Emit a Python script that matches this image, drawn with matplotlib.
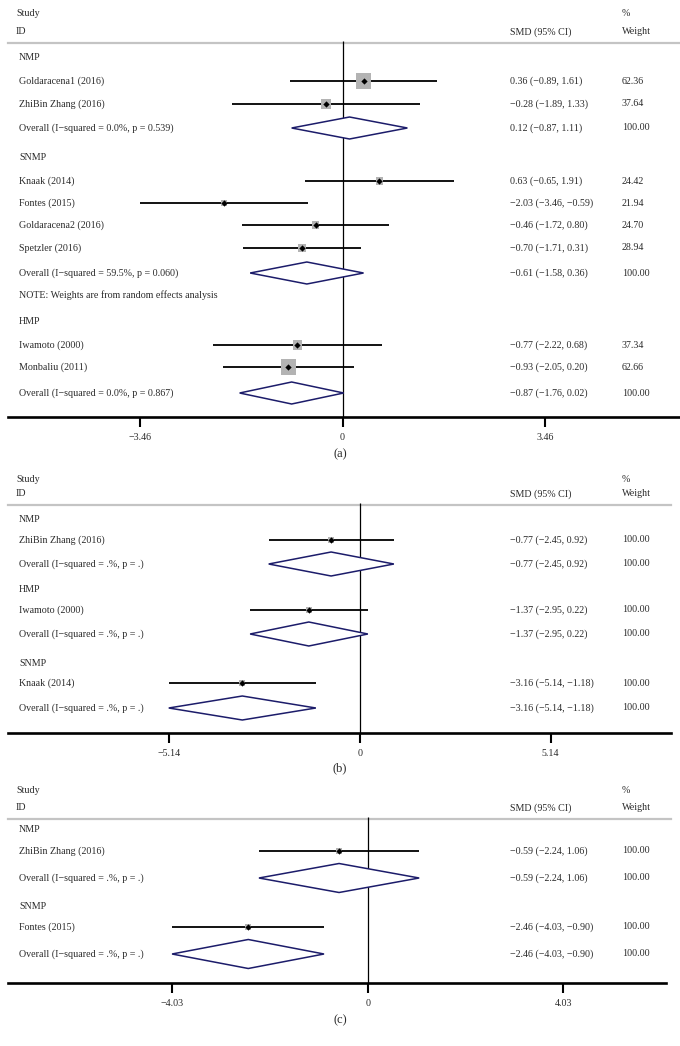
import matplotlib
matplotlib.use("Agg")
import matplotlib.pyplot as plt
from matplotlib.patches import Polygon, Rectangle
import matplotlib.transforms as mtransforms

plt.rcParams['font.family'] = ['Liberation Serif', 'DejaVu Serif']

# ---------------- data ----------------
# panel (a)
a_groups = ["NMP", "SNMP", "HMP"]
a_studies = [["Goldaracena1 (2016)", "ZhiBin Zhang (2016)"],
             ["Knaak (2014)", "Fontes (2015)", "Goldaracena2 (2016)", "Spetzler (2016)"],
             ["Iwamoto (2000)", "Monbaliu (2011)"]]
a_est = [[0.36, -0.28], [0.63, -2.03, -0.46, -0.70], [-0.77, -0.93]]
a_lo = [[-0.89, -1.89], [-0.65, -3.46, -1.72, -1.71], [-2.22, -2.05]]
a_hi = [[1.61, 1.33], [1.91, -0.59, 0.80, 0.31], [0.68, 0.20]]
a_w = [[62.36, 37.64], [24.42, 21.94, 24.70, 28.94], [37.34, 62.66]]
a_ov_label = ["Overall (I\u2212squared = 0.0%, p = 0.539)",
              "Overall (I\u2212squared = 59.5%, p = 0.060)",
              "Overall (I\u2212squared = 0.0%, p = 0.867)"]
a_ov_est = [0.12, -0.61, -0.87]
a_ov_lo = [-0.87, -1.58, -1.76]
a_ov_hi = [1.11, 0.36, 0.02]
a_tick = 3.46

# panel (b)
b_groups = ["NMP", "HMP", "SNMP"]
b_studies = [["ZhiBin Zhang (2016)"], ["Iwamoto (2000)"], ["Knaak (2014)"]]
b_est = [[-0.77], [-1.37], [-3.16]]
b_lo = [[-2.45], [-2.95], [-5.14]]
b_hi = [[0.92], [0.22], [-1.18]]
b_w = [[100.0], [100.0], [100.0]]
b_ov_label = ["Overall (I\u2212squared = .%, p = .)"] * 3
b_ov_est = [-0.77, -1.37, -3.16]
b_ov_lo = [-2.45, -2.95, -5.14]
b_ov_hi = [0.92, 0.22, -1.18]
b_tick = 5.14

# panel (c)
c_groups = ["NMP", "SNMP"]
c_studies = [["ZhiBin Zhang (2016)"], ["Fontes (2015)"]]
c_est = [[-0.59], [-2.46]]
c_lo = [[-2.24], [-4.03]]
c_hi = [[1.06], [-0.90]]
c_w = [[100.0], [100.0]]
c_ov_label = ["Overall (I\u2212squared = .%, p = .)"] * 2
c_ov_est = [-0.59, -2.46]
c_ov_lo = [-2.24, -4.03]
c_ov_hi = [1.06, -0.90]
c_tick = 4.03

note_text = "NOTE: Weights are from random effects analysis"

# ---------------- layout (pixels) ----------------
W, H = 680, 1046
fig = plt.figure(figsize=(W / 100, H / 100), dpi=100)

TXT = '#2a2a2a'
NAVY = '#1c1c6a'
FS = 7.2


def fmt(v):
    return f"{v:.2f}".replace('-', '\u2212')


def ci_text(e, l, h):
    return f"{fmt(e)} ({fmt(l)}, {fmt(h)})"


def panel(top, bottom, zero_px, scale, axis_right, hdr_right, study_y, id_y, hline_y,
          group_y, study_rows_y, ov_y, dh, groups, studies, est, lo, hi, w, ov_label,
          ov_est, ov_lo, ov_hi, tick, box_fn, caption, cap_y, note_y=None, note_after=None):
    ax = fig.add_axes([0, 1 - bottom / H, 1, (bottom - top) / H])
    ax.set_xlim((0 - zero_px) / scale, (W - zero_px) / scale)
    ax.set_ylim(bottom, top)
    for s in ['top', 'left', 'right']:
        ax.spines[s].set_visible(False)
    ax.spines['bottom'].set_linewidth(1.9)
    ax.spines['bottom'].set_bounds((8 - zero_px) / scale, (axis_right - zero_px) / scale)
    ax.set_yticks([])
    ax.set_xticks([-tick, 0, tick])
    ax.set_xticklabels([fmt(-tick), "0", fmt(tick)])
    ax.tick_params(axis='x', direction='out', length=7.5, width=1.5, pad=4,
                   labelsize=FS, labelcolor=TXT, color='black')
    ax.patch.set_alpha(0)
    bl = mtransforms.blended_transform_factory(ax.transAxes, ax.transData)

    def tx(xpx, y, s, **kw):
        ax.text(xpx / W, y, s, transform=bl, fontsize=FS, color=TXT, va='center',
                ha='left', **kw)

    # header
    tx(16, study_y, "Study")
    tx(16, id_y, "ID")
    tx(622, study_y, "%")
    tx(622, id_y, "Weight")
    tx(510, id_y, "SMD (95% CI)")
    ax.plot([8 / W, hdr_right / W], [hline_y, hline_y], transform=bl,
            color='#c4c4c4', lw=1.6, clip_on=False)
    # zero line
    ax.vlines(0, hline_y - 2, bottom, color='black', lw=0.9)

    for g in range(len(groups)):
        tx(19, group_y[g], groups[g])
        for i, name in enumerate(studies[g]):
            y = study_rows_y[g][i]
            tx(19, y, name)
            tx(510, y, ci_text(est[g][i], lo[g][i], hi[g][i]))
            tx(622, y, f"{w[g][i]:.2f}")
            ax.hlines(y, lo[g][i], hi[g][i], color='black', lw=1.3, zorder=2)
            side = box_fn(w[g][i])
            ax.add_patch(Rectangle((est[g][i] - side / 2 / scale, y - side / 2),
                                   side / scale, side, facecolor='#b3b3b3',
                                   edgecolor='none', zorder=3))
            ax.plot(est[g][i], y, marker='D', ms=3.2, color='black', mew=0, zorder=4)
        y = ov_y[g]
        tx(19, y, ov_label[g])
        tx(510, y, ci_text(ov_est[g], ov_lo[g], ov_hi[g]))
        tx(622, y, "100.00")
        ax.add_patch(Polygon([(ov_lo[g], y), (ov_est[g], y - dh), (ov_hi[g], y),
                              (ov_est[g], y + dh)], closed=True, facecolor='white',
                             edgecolor=NAVY, lw=1.1, zorder=3))
        if note_after is not None and g == note_after:
            tx(19, note_y, note_text)
    fig.text(340 / W, 1 - cap_y / H, caption, ha='center', va='center',
             fontsize=9, color=TXT)
    return ax


# panel (a)
panel(top=0, bottom=417, zero_px=342.5, scale=58.45, axis_right=680, hdr_right=680,
      study_y=13, id_y=32, hline_y=43,
      group_y=[58, 158, 322],
      study_rows_y=[[81, 104], [181, 203, 225, 248], [345, 367]],
      ov_y=[128, 273, 393], dh=11,
      groups=a_groups, studies=a_studies, est=a_est, lo=a_lo, hi=a_hi, w=a_w,
      ov_label=a_ov_label, ov_est=a_ov_est, ov_lo=a_ov_lo, ov_hi=a_ov_hi,
      tick=a_tick, box_fn=lambda v: 2 + 0.21 * v, caption="(a)", cap_y=454,
      note_y=295, note_after=1)

# panel (b)
panel(top=470, bottom=733, zero_px=359.7, scale=37.15, axis_right=671, hdr_right=671,
      study_y=479, id_y=494, hline_y=505,
      group_y=[520, 589, 663],
      study_rows_y=[[540], [610], [683]],
      ov_y=[564, 634, 708], dh=12,
      groups=b_groups, studies=b_studies, est=b_est, lo=b_lo, hi=b_hi, w=b_w,
      ov_label=b_ov_label, ov_est=b_ov_est, ov_lo=b_ov_lo, ov_hi=b_ov_hi,
      tick=b_tick, box_fn=lambda v: 0.06 * v, caption="(b)", cap_y=768)

# panel (c)
panel(top=785, bottom=983, zero_px=367.7, scale=48.55, axis_right=666, hdr_right=671,
      study_y=791, id_y=808, hline_y=819,
      group_y=[830, 907],
      study_rows_y=[[851], [927]],
      ov_y=[878, 954], dh=14.5,
      groups=c_groups, studies=c_studies, est=c_est, lo=c_lo, hi=c_hi, w=c_w,
      ov_label=c_ov_label, ov_est=c_ov_est, ov_lo=c_ov_lo, ov_hi=c_ov_hi,
      tick=c_tick, box_fn=lambda v: 0.06 * v, caption="(c)", cap_y=1020)

fig.savefig("out.png", dpi=100, facecolor='white')
